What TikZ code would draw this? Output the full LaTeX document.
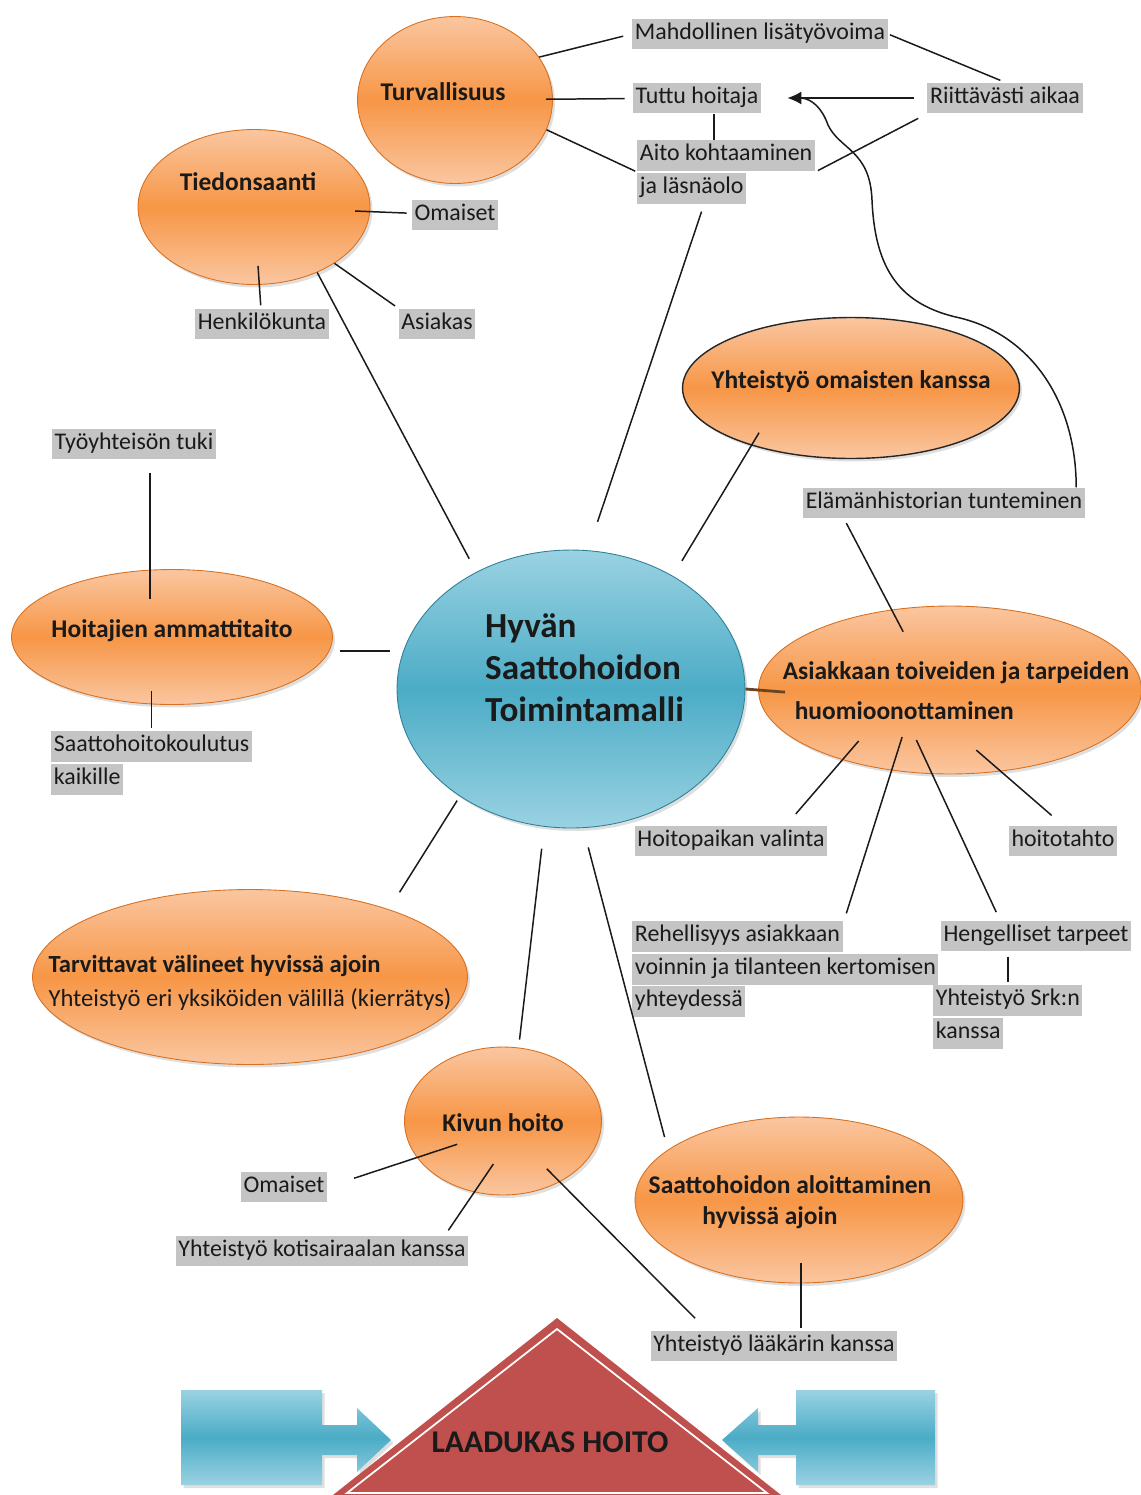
\documentclass[tikz,border=0pt]{standalone}
\usepackage{fontspec}
\setmainfont{Carlito}
\usetikzlibrary{arrows.meta,positioning,shapes.geometric,shadows}

\definecolor{orangeM}{HTML}{F79646}
\definecolor{orangeL}{HTML}{FAC6A0}
\definecolor{orangeD}{HTML}{D8701F}
\definecolor{blueM}{HTML}{4BACC6}
\definecolor{blueL}{HTML}{9AD2E2}
\definecolor{blueD}{HTML}{2E8199}
\definecolor{lblgray}{HTML}{C4C4C4}
\definecolor{redT}{HTML}{C0504D}
\definecolor{inkc}{HTML}{1A1A1A}

\setlength{\fboxsep}{1.5pt}
\newcommand{\hl}[1]{\colorbox{lblgray}{\strut #1}}
\newcommand{\lift}[2]{\makebox[0pt]{\raisebox{#1}[0pt][0pt]{#2}}}

\begin{document}
\begin{tikzpicture}[
    x=0.02cm,
    y=-0.02cm,
    text=inkc,
    bubble/.style={ellipse, draw=orangeD, line width=0.5pt, top color=orangeL, bottom color=orangeL, middle color=orangeM, inner sep=0pt, font=\bfseries\fontsize{14.5}{17}\selectfont, drop shadow={opacity=0.25, shadow xshift=0.05cm, shadow yshift=-0.06cm}},
    corebubble/.style={ellipse, draw=blueD, line width=0.5pt, top color=blueL, bottom color=blueL, middle color=blueM, inner sep=0pt, font=\bfseries\fontsize{20}{23.9}\selectfont, drop shadow={opacity=0.25, shadow xshift=0.05cm, shadow yshift=-0.06cm}},
    tag/.style={inner sep=0pt, font=\fontsize{13.6}{14.5}\selectfont, align=left},
    link/.style={draw=inkc, line width=0.85pt},
    arrow/.style={link, -{Latex[length=2.8mm,width=2.6mm]}}
  ]
  \useasboundingbox (0,0) rectangle (1141,1495);
  % px grid: x right, y down (1 px = 0.02cm)

  % --- Centre ---
  \node[corebubble, minimum width=6.96cm, minimum height=5.56cm] (core) at (571,689)
    {\lift{1.04cm}{\hspace*{0.54cm}\begin{tabular}[t]{@{}l@{}}Hyvän\\Saattohoidon\\Toimintamalli\end{tabular}}};

  % --- Themes ---
  \node[bubble, minimum width=3.9cm, minimum height=3.34cm] (turv) at (455,100) {\lift{0cm}{Turvallisuus\hspace*{0.48cm}}};
  \node[bubble, minimum width=4.64cm, minimum height=3.1cm] (tied) at (254,207) {\lift{0.34cm}{Tiedonsaanti\hspace*{0.24cm}}};
  \node[bubble, draw=black!85, line width=0.8pt, minimum width=6.74cm, minimum height=2.82cm] (yom) at (851,388) {\lift{0cm}{Yhteistyö omaisten kanssa}};
  \node[bubble, minimum width=6.42cm, minimum height=2.7cm] (hoit) at (172,637) {\lift{0cm}{Hoitajien ammattitaito}};
  \node[bubble, minimum width=7.66cm, minimum height=3.36cm] (toive) at (950,690)
    {\lift{0.22cm}{\hspace*{0.24cm}\fontsize{14.5}{23.3}\selectfont\begin{tabular}[t]{@{}l@{}}Asiakkaan toiveiden ja tarpeiden\\\hspace*{0.24cm}huomioonottaminen\end{tabular}}};
  \node[bubble, minimum width=8.7cm, minimum height=3.5cm] (tarv) at (250,977)
    {\lift{0.1cm}{\fontsize{14}{19.4}\selectfont\begin{tabular}[t]{@{}l@{}}Tarvittavat välineet hyvissä ajoin\\\mdseries Yhteistyö eri yksiköiden välillä (kierrätys)\end{tabular}}};
  \node[bubble, minimum width=3.94cm, minimum height=2.96cm] (kiv) at (503,1121) {\lift{-0.2cm}{Kivun hoito}};
  \node[bubble, minimum width=6.56cm, minimum height=3.32cm] (aloit) at (799,1200)
    {\lift{0.14cm}{\fontsize{14.5}{18.2}\selectfont\begin{tabular}[t]{@{}c@{}}Saattohoidon aloittaminen\\hyvissä ajoin\hspace*{0.8cm}\end{tabular}\hspace*{0.36cm}}};

  % --- Labels ---
  \node[tag] (mahd)   at (760,34)   {\hl{Mahdollinen lisätyövoima}};
  \node[tag] (tuttu)  at (697,98)   {\hl{Tuttu hoitaja}};
  \node[tag] (riitt)  at (1005,98)  {\hl{Riittävästi aikaa}};
  \node[tag, anchor=north west] (aito) at (637,140) {\hl{Aito kohtaaminen}\\\hl{ja läsnäolo}};
  \node[tag] (omai1)  at (455,215)  {\hl{Omaiset}};
  \node[tag] (henk)   at (262,324)  {\hl{Henkilökunta}};
  \node[tag] (asiak)  at (437,324)  {\hl{Asiakas}};
  \node[tag] (tyo)    at (134,444)  {\hl{Työyhteisön tuki}};
  \node[tag, anchor=north west] (kouluts) at (51,731) {\hl{Saattohoitokoulutus}\\\hl{kaikille}};
  \node[tag] (elam)   at (944,503)  {\hl{Elämänhistorian tunteminen}};
  \node[tag] (hoitop) at (731,841)  {\hl{Hoitopaikan valinta}};
  \node[tag] (hoitot) at (1063,841) {\hl{hoitotahto}};
  \node[tag, anchor=north west] (rehell) at (632,921) {\hl{Rehellisyys asiakkaan}\\\hl{voinnin ja tilanteen kertomisen}\\\hl{yhteydessä}};
  \node[tag] (hengel) at (1036,936) {\hl{Hengelliset tarpeet}};
  \node[tag, anchor=north west] (srk) at (933,985) {\hl{Yhteistyö Srk:n}\\\hl{kanssa}};
  \node[tag] (omai2)  at (284,1187) {\hl{Omaiset}};
  \node[tag] (kotis)  at (322,1251) {\hl{Yhteistyö kotisairaalan kanssa}};
  \node[tag] (laak)   at (774,1346) {\hl{Yhteistyö lääkärin kanssa}};

  % --- Bottom: triangle and block arrows ---
  \fill[redT] (557,1318) -- (333,1495) -- (781,1495) -- cycle;
  \draw[white, line width=1pt] (557,1329) -- (347,1493) -- (767,1493) -- cycle;
  \node[font=\bfseries\fontsize{18}{20}\selectfont] (laatu) at (550,1442) {LAADUKAS HOITO};
  \shade[top color=blueL, bottom color=blueL, middle color=blueM, drop shadow={opacity=0.25, shadow xshift=0.05cm, shadow yshift=-0.06cm}]
    (181,1390) -- (322,1390) -- (322,1425) -- (357,1425) -- (357,1408) -- (391,1440)
    -- (357,1472) -- (357,1455) -- (322,1455) -- (322,1485) -- (181,1485) -- cycle;
  \shade[top color=blueL, bottom color=blueL, middle color=blueM, drop shadow={opacity=0.25, shadow xshift=0.05cm, shadow yshift=-0.06cm}]
    (935,1390) -- (796,1390) -- (796,1425) -- (758,1425) -- (758,1408) -- (722,1440)
    -- (758,1472) -- (758,1455) -- (796,1455) -- (796,1485) -- (935,1485) -- cycle;

  % --- Connectors ---
  % Turvallisuus
  \draw[link, shorten >=0.18cm] (turv.27) -- (mahd.west);
  \draw[link, shorten <=-0.14cm, shorten >=0.16cm] (turv) -- (tuttu);
  \draw[link, shorten >=0.04cm] (turv.-18) -- (aito.west);
  \coordinate (tuttuS) at ([xshift=0.34cm]tuttu.south);
  \draw[link] (tuttuS) -- (tuttuS |- aito.north);
  \draw[link, shorten <=0.04cm, shorten >=0.1cm] (mahd.east) -- (riitt.north);
  \draw[arrow, shorten <=0.26cm, shorten >=0.52cm] (riitt) -- (tuttu);
  \draw[link, shorten <=0.2cm, shorten >=0.06cm] (riitt.south west) -- (aito.east);
  \draw[link] ([xshift=-0.18cm]elam.north east) .. controls (1076,400) and (1030,335) .. (960,318)
    .. controls (900,305) and (875,270) .. (872,200)
    .. controls (870,150) and (840,150) .. (828,125)
    .. controls (822,108) and (812,99) .. ([xshift=0.8cm]tuttu.east);

  % Tiedonsaanti
  \draw[link, shorten <=-0.3cm, shorten >=0.1cm] (tied) -- (omai1);
  \draw[link, shorten <=-0.38cm, shorten >=0.06cm] (tied) -- (henk);
  \draw[link, shorten >=0.08cm] (tied.-35) -- (asiak.north west);
  \draw[link, shorten >=0.3cm] (tied.-46) -- (core.129);

  % Centre spokes
  \draw[link, shorten <=0.16cm, shorten >=0.6cm] ([xshift=-0.44cm]aito.south) -- (core.83);
  \draw[link, shorten <=-0.3cm, shorten >=0.35cm] (yom.-150) -- (core.48);
  \draw[link, shorten <=0.2cm, shorten >=0.14cm] (hoit.-5) -- (core.west |- hoit.-5);
  \draw[draw=brown!55!black, line width=1.6pt, shorten >=-0.54cm] (core.east) -- (toive.west);
  \draw[link, shorten <=0.1cm, shorten >=0.4cm] (core.224) -- (tarv.26);
  \draw[link, shorten <=0.44cm, shorten >=0.16cm] (core.259) -- (kiv.78);
  \draw[link, shorten <=0.4cm, shorten >=0.26cm] (core.-85) -- (aloit.159);

  % Hoitajien ammattitaito
  \coordinate (tyoS) at ([xshift=0.32cm]tyo.south);
  \draw[link, shorten <=0.26cm, shorten >=-0.6cm] (tyoS) -- (tyoS |- hoit.north);
  \draw[link, shorten <=-0.28cm, shorten >=0.06cm] (kouluts.north |- hoit.south) -- (kouluts.north);

  % Asiakkaan toiveiden ja tarpeiden huomioonottaminen
  \draw[link, shorten <=0.1cm, shorten >=-0.5cm] ([xshift=-2cm]elam.south) -- (toive.126);
  \draw[link, shorten <=-0.5cm, shorten >=0.3cm] (toive.213) -- ([xshift=1.1cm]hoitop.north);
  \draw[link, shorten <=-0.7cm, shorten >=0.16cm] (toive.234) -- ([xshift=1.17cm]rehell.north);
  \draw[link, shorten <=-0.75cm, shorten >=0.18cm] (toive.258) -- ([xshift=-0.72cm]hengel.north);
  \draw[link, shorten <=-0.65cm, shorten >=0.3cm] (toive.-58) -- (hoitot.north);
  \draw[link, shorten <=0.1cm, shorten >=0.06cm] (srk.north |- hengel.south) -- (srk.north);

  % Kivun hoito
  \draw[link, shorten <=-0.85cm, shorten >=0.56cm] (kiv.203) -- (omai2.east);
  \draw[link, shorten <=-0.68cm, shorten >=0.12cm] (kiv.248) -- ([xshift=2.46cm]kotis.north);
  \draw[link, shorten <=-0.37cm, shorten >=0.34cm] (kiv.-47) -- ([xshift=-1.34cm]laak.north);

  % Saattohoidon aloittaminen
  \coordinate (laakN) at ([xshift=0.54cm]laak.north);
  \draw[link, shorten <=-0.4cm, shorten >=0.04cm] (laakN |- aloit.south) -- (laakN);

\end{tikzpicture}
\end{document}
